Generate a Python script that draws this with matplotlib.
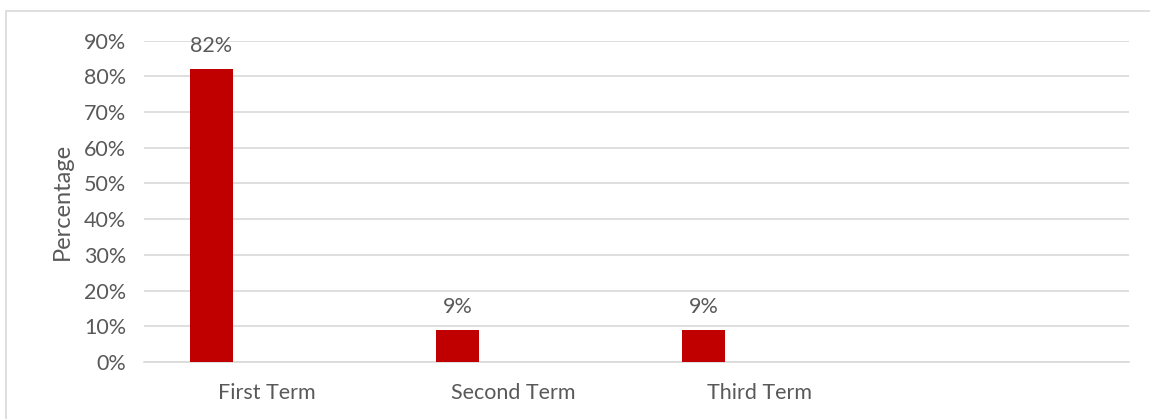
import numpy as np
import matplotlib.pyplot as plt
from matplotlib.patches import Rectangle
from matplotlib.ticker import PercentFormatter

# data
categories = ["First Term", "Second Term", "Third Term", ""]
values = [82, 9, 9, None]
yticks = [0, 10, 20, 30, 40, 50, 60, 70, 80, 90]

BAR_COLOR = "#C00000"
TEXT_COLOR = "#595959"
GRID_COLOR = "#D9D9D9"
FONT = ["Lato", "DejaVu Sans"]

plt.rcParams["font.family"] = FONT

fig = plt.figure(figsize=(11.5, 4.19), dpi=100)
ax = fig.add_axes([0.1252, 0.136, 0.8563, 0.7669])

# outer chart border (extends past the right/bottom edge like the reference crop)
fig.patches.append(Rectangle((5.5 / 1150, -0.2), 1.5, 1.2 - 10.5 / 419,
                             transform=fig.transFigure, fill=False,
                             edgecolor=GRID_COLOR, linewidth=1.2, zorder=0))

x = np.arange(len(categories))
offset = -0.226
width = 0.175
for xi, v in zip(x, values):
    if v is None:
        continue
    ax.bar(xi + offset, v, width=width, color=BAR_COLOR, zorder=3)
    ax.text(xi + offset, v + 3.6, f"{v}%", ha="center", va="bottom",
            fontsize=15.5, color=TEXT_COLOR)

ax.set_xlim(-0.5, len(categories) - 0.5)
ax.set_ylim(0, 90)
ax.set_yticks(yticks)
ax.yaxis.set_major_formatter(PercentFormatter(decimals=0))
ax.set_xticks(x)
ax.set_xticklabels(categories)

ax.grid(axis="y", color=GRID_COLOR, linewidth=1.2, zorder=0)
ax.set_axisbelow(True)
for s in ["top", "right", "left"]:
    ax.spines[s].set_visible(False)
ax.spines["bottom"].set_color(GRID_COLOR)
ax.spines["bottom"].set_linewidth(1.2)
ax.tick_params(axis="both", length=0, labelsize=15.5, labelcolor=TEXT_COLOR)
ax.tick_params(axis="y", pad=13)
ax.tick_params(axis="x", pad=15)

ax.set_ylabel("Percentage", fontsize=17, color=TEXT_COLOR, labelpad=8)

fig.savefig("out.png", dpi=100)
